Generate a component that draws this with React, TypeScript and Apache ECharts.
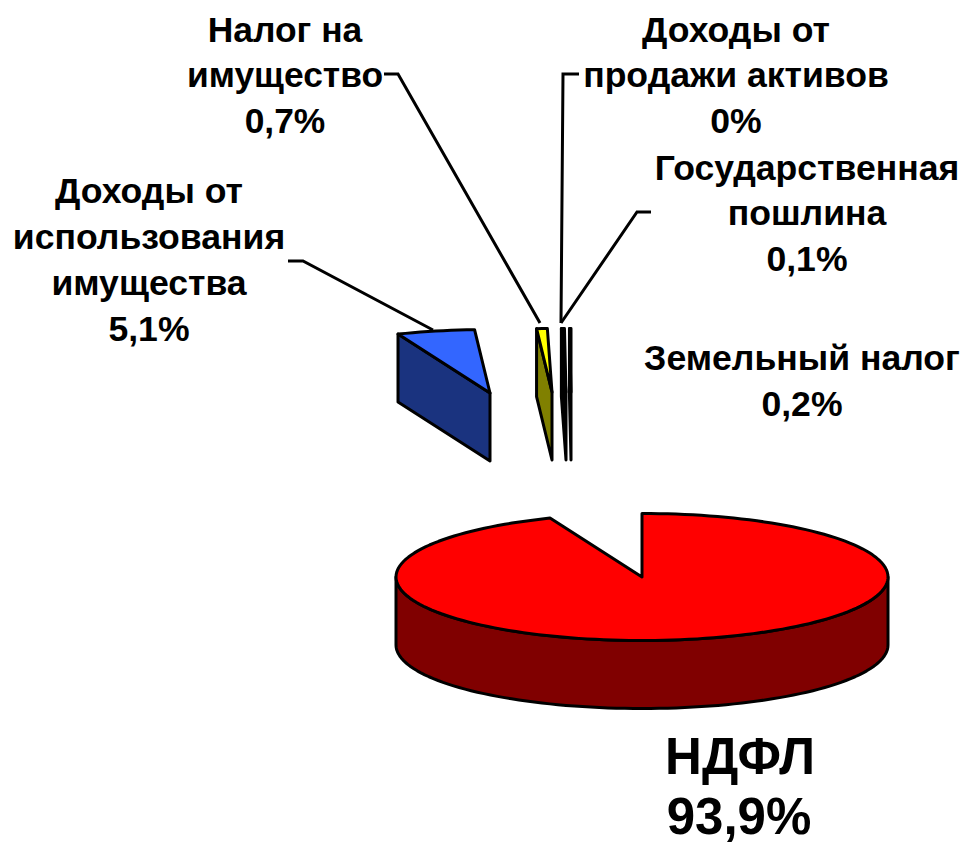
import React, { useEffect, useRef } from "react";
import * as echarts from "echarts";

const sliceNames = [
  "НДФЛ",
  "Доходы от использования имущества",
  "Налог на имущество",
  "Земельный налог",
  "Государственная пошлина",
  "Доходы от продажи активов",
];
const sliceValues = [93.9, 5.1, 0.7, 0.2, 0.1, 0];
const topColors = ["#FF0000", "#3366FF", "#FFFF00", "#000000", "#000000", "#000000"];
const sideColors = ["#800000", "#1A337F", "#808000", "#000000", "#000000", "#000000"];

// Pie projection and drag-out offset of each slice
const CX = 642, CY = 577, RX = 246, RY = 63.5, DEPTH = 68;
const offsets = [[0, 0], [-152, -184], [-90, -185], [-76, -185], [-71, -185], [-70, -185]];

const labels = [
  { text: "Налог на\nимущество\n0,7%", x: 285, y: 75, size: 35.4, lh: 45.5 },
  { text: "Доходы от\nпродажи активов\n0%", x: 736, y: 75, size: 35.6, lh: 45.5 },
  { text: "Государственная\nпошлина\n0,1%", x: 807, y: 213, size: 35.6, lh: 45.5 },
  { text: "Доходы от\nиспользования\nимущества\n5,1%", x: 149, y: 260, size: 35.6, lh: 46 },
  { text: "Земельный налог\n0,2%", x: 802, y: 381, size: 35.6, lh: 46 },
  { text: "НДФЛ", x: 740, y: 756, size: 51, lh: 46 },
  { text: "93,9%", x: 739, y: 816, size: 51, lh: 46 },
];
const leaders = [
  [[288, 261], [303, 261], [433, 330]],
  [[384, 74], [398, 74], [540, 323]],
  [[579, 74], [563, 74], [561, 323]],
  [[651, 212], [637, 212], [561, 323]],
];

const total = sliceValues.reduce((a, b) => a + b, 0);
const starts: number[] = [];
sliceValues.reduce((acc, v, i) => {
  starts[i] = acc;
  return acc + (v / total) * 360;
}, 0);

function App() {
  const ref = useRef<HTMLDivElement>(null);
  useEffect(() => {
    const chart = echarts.init(ref.current!, undefined, { renderer: "svg" });
    const D = Math.PI / 180;
    const renderItem = (params: any, api: any) => {
      const i = params.dataIndex;
      const value = api.value(0);
      if (!value) return null;
      const a = starts[i];
      const b = a + (value / total) * 360;
      const ox = CX + offsets[i][0];
      const oy = CY + offsets[i][1];
      const pt = (t: number, h = 0) => [ox + RX * Math.sin(t * D), oy - RY * Math.cos(t * D) + h];
      const arc = (from: number, to: number, h = 0) => {
        const pts: number[][] = [];
        const n = Math.max(1, Math.ceil((to - from) / 2));
        for (let k = 0; k <= n; k++) pts.push(pt(from + ((to - from) * k) / n, h));
        return pts;
      };
      const line = { stroke: "#000", lineWidth: 3, lineJoin: "round" as const };
      const poly = (points: number[][], fill: string) => ({ type: "polygon", shape: { points }, style: { fill, ...line } });
      const children: any[] = [];
      const apex = [ox, oy];
      const apexB = [ox, oy + DEPTH];
      if (Math.sin(b * D) > 0.001) children.push(poly([apex, pt(b), pt(b, DEPTH), apexB], sideColors[i]));
      if (Math.sin(a * D) < -0.001) children.push(poly([apex, pt(a), pt(a, DEPTH), apexB], sideColors[i]));
      const w0 = Math.max(a, 90);
      const w1 = Math.min(b, 270);
      if (w1 > w0) children.push(poly([...arc(w0, w1), ...arc(w0, w1, DEPTH).reverse()], sideColors[i]));
      children.push(poly([apex, ...arc(a, b)], topColors[i]));
      return { type: "group", children };
    };
    chart.setOption({
      animation: false,
      backgroundColor: "#ffffff",
      series: [
        {
          type: "custom",
          coordinateSystem: "none",
          silent: true,
          renderItem,
          data: sliceValues.map((v, i) => ({ name: sliceNames[i], value: [v] })),
        },
      ],
      graphic: [
        ...leaders.map((points) => ({
          type: "polyline",
          z: 10,
          shape: { points },
          style: { fill: "none", stroke: "#000", lineWidth: 3 },
        })),
        ...labels.map((l) => ({
          type: "text",
          z: 11,
          x: l.x,
          y: l.y,
          style: {
            text: l.text,
            fill: "#000",
            font: `bold ${l.size}px "Liberation Sans", Arial, sans-serif`,
            lineHeight: l.lh,
            align: "center",
            verticalAlign: "middle",
          },
        })),
      ],
    });
    return () => chart.dispose();
  }, []);
  return <div ref={ref} style={{ position: "absolute", left: 0, top: 0, width: 965, height: 843 }} />;
}

export default App;
